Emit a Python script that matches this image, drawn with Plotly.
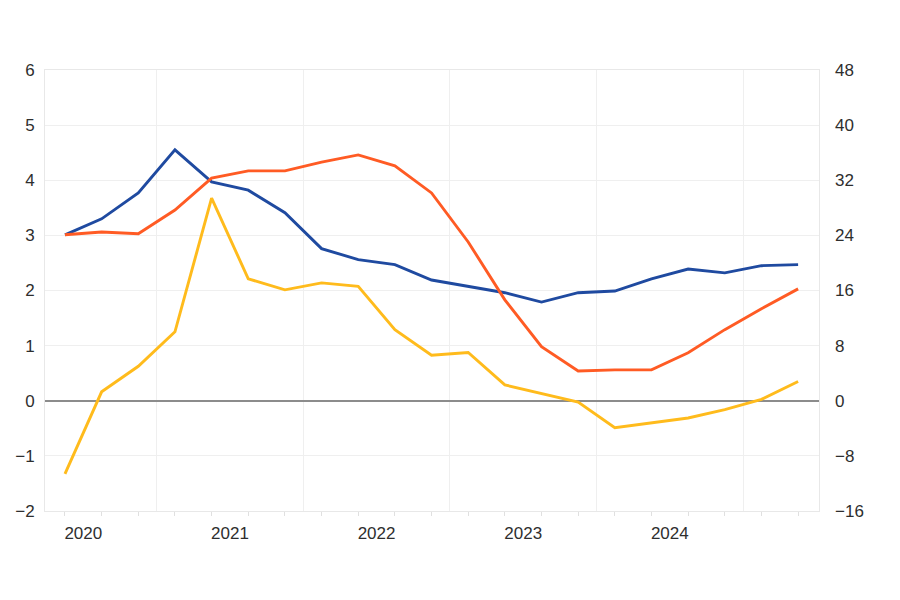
import plotly.graph_objects as go

quarters = list(range(21))  # 2020Q1 .. 2025Q1
year_labels = ["2020", "2021", "2022", "2023", "2024"]
year_label_pos = [0.5, 4.5, 8.5, 12.5, 16.5]
year_grid_pos = [2.5, 6.5, 10.5, 14.5, 18.5]

blue = [3.01, 3.30, 3.77, 4.55, 3.97, 3.82, 3.41, 2.76, 2.56, 2.47, 2.19,
        2.08, 1.96, 1.79, 1.96, 1.99, 2.21, 2.39, 2.32, 2.45, 2.47]
orange = [3.01, 3.06, 3.03, 3.46, 4.04, 4.17, 4.17, 4.33, 4.46, 4.26, 3.77,
          2.88, 1.83, 0.98, 0.54, 0.56, 0.56, 0.87, 1.29, 1.67, 2.03]
yellow_rhs = [-10.6, 1.3, 5.0, 10.0, 29.4, 17.7, 16.1, 17.1, 16.6, 10.3, 6.6,
              7.0, 2.3, 1.0, -0.2, -3.9, -3.2, -2.5, -1.3, 0.2, 2.8]

left_ticks = [-2, -1, 0, 1, 2, 3, 4, 5, 6]
right_ticks = [-16, -8, 0, 8, 16, 24, 32, 40, 48]

xr = [-0.545, 20.57]
font = dict(family="Liberation Sans, Arial, sans-serif", size=17, color="#2e2e2e")

fig = go.Figure()
fig.add_trace(go.Scatter(x=quarters, y=blue, mode="lines",
                         line=dict(color="#1f4aa0", width=2.9), xaxis="x", yaxis="y"))
fig.add_trace(go.Scatter(x=quarters, y=orange, mode="lines",
                         line=dict(color="#ff5b24", width=2.9), xaxis="x", yaxis="y"))
fig.add_trace(go.Scatter(x=quarters, y=yellow_rhs, mode="lines",
                         line=dict(color="#ffbb1c", width=2.9), xaxis="x2", yaxis="y2"))

fig.update_layout(
    width=900, height=600,
    margin=dict(l=37, r=89, t=62, b=97, autoexpand=False),
    paper_bgcolor="white", plot_bgcolor="white",
    showlegend=False, font=font,
    xaxis=dict(range=xr, tickmode="array", tickvals=year_label_pos, ticktext=year_labels,
               ticks="", showgrid=False, zeroline=False, automargin=False,
               showline=True, linecolor="#e8e8e8", linewidth=1, mirror=True,
               ticklabelstandoff=7,
               minor=dict(tickmode="array", tickvals=quarters, ticks="outside",
                          ticklen=4, tickcolor="#e0e0e0", showgrid=False)),
    xaxis2=dict(range=xr, overlaying="x", side="bottom", tickmode="array",
                tickvals=year_grid_pos, showticklabels=False, ticks="",
                showgrid=True, gridcolor="#efefef", gridwidth=1, zeroline=False),
    yaxis=dict(range=[-2, 6], tickmode="array", tickvals=left_ticks,
               showgrid=True, gridcolor="#efefef", gridwidth=1, automargin=False,
               zeroline=True, zerolinecolor="#8c8c8c", zerolinewidth=2,
               showline=True, linecolor="#e8e8e8", linewidth=1, mirror=True,
               ticks="", ticklabelstandoff=6),
    yaxis2=dict(range=[-16, 48], tickmode="array", tickvals=right_ticks,
                overlaying="y", side="right", showgrid=False, zeroline=False,
                automargin=False, ticks="", ticklabelstandoff=15),
)

fig.write_html("out.html")
